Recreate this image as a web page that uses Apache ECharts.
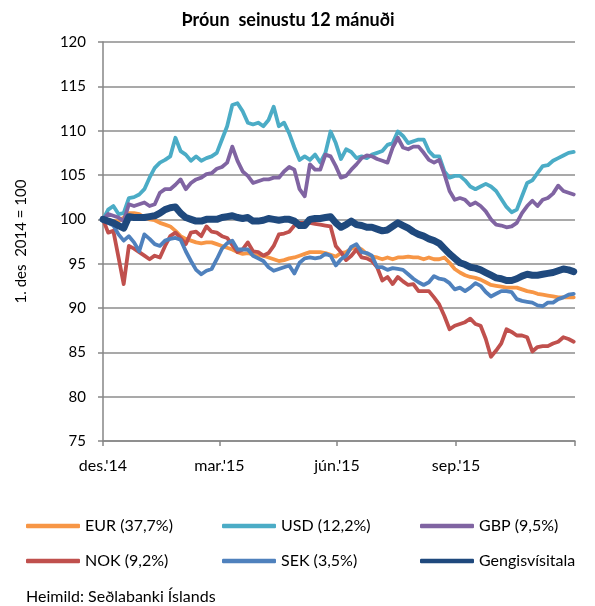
<!DOCTYPE html>
<html>
<head>
<meta charset="utf-8">
<script src="https://cdn.jsdelivr.net/npm/echarts@6/dist/echarts.min.js"></script>
<style>
  html, body { margin: 0; padding: 0; background: #fff; }
</style>
</head>
<body>
<div id="gengi_chart" style="width: 595px; height: 606px"></div>
<script>
// dagar frá 1. des 2014
var days = [
  0, 4, 8, 12, 16, 20, 24, 28, 32, 36, 40, 44, 48, 52, 56, 60, 64, 68, 72, 76, 80, 84, 88,
  92, 96, 100, 104, 108, 112, 116, 120, 124, 128, 132, 136, 140, 144, 148, 152, 156, 160, 164, 168, 172, 176, 180,
  184, 188, 192, 196, 200, 204, 208, 212, 216, 220, 224, 228, 232, 236, 240, 244, 248, 252, 256, 260, 264, 268, 272,
  276, 280, 284, 288, 292, 296, 300, 304, 308, 312, 316, 320, 324, 328, 332, 336, 340, 344, 348, 352, 356, 360, 364
]

var eur = [
  100, 99.9, 99.8, 99.8, 100.2, 100.7, 100.7, 100.6, 100.2, 100.0, 99.9, 99.6, 99.4, 99.2, 98.7, 98.1, 97.8, 97.6, 97.4, 97.3, 97.4, 97.4, 97.2,
  97.0, 96.8, 96.6, 96.3, 96.1, 96.2, 96.0, 95.9, 95.9, 95.7, 95.5, 95.3, 95.4, 95.6, 95.7, 95.9, 96.1, 96.3, 96.3, 96.3, 96.2, 96.0, 95.8,
  96.2, 96.3, 96.7, 96.9, 96.6, 96.1, 95.8, 95.7, 95.5, 95.7, 95.5, 95.7, 95.7, 95.8, 95.7, 95.7, 95.5, 95.7, 95.5, 95.5, 95.7, 95.1, 94.4,
  94.0, 93.7, 93.5, 93.4, 93.2, 92.9, 92.6, 92.5, 92.4, 92.3, 92.3, 92.3, 92.1, 91.9, 91.8, 91.6, 91.5, 91.4, 91.3, 91.2, 91.2, 91.2, 91.2
]
var usd = [
  100, 101.1, 101.5, 100.6, 100.7, 102.4, 102.5, 102.8, 103.4, 104.7, 105.8, 106.4, 106.7, 107.1, 109.2, 107.7, 107.3, 106.6, 107.1, 106.6, 106.9, 107.1, 107.5,
  109.0, 110.5, 112.9, 113.1, 112.2, 110.9, 110.7, 110.9, 110.5, 111.2, 112.7, 110.5, 110.9, 109.7, 108.1, 106.7, 107.1, 106.7, 107.3, 106.4, 107.5, 109.9, 108.6,
  106.8, 107.9, 107.6, 106.9, 107.1, 106.9, 107.3, 107.5, 107.7, 108.4, 108.6, 109.9, 109.4, 108.6, 108.8, 109.0, 109.0, 107.7, 107.1, 107.1, 105.4, 104.7, 104.9,
  104.9, 104.4, 103.7, 103.4, 103.7, 104.0, 103.7, 103.2, 102.3, 101.4, 100.8, 101.1, 102.6, 104.1, 104.4, 105.2, 106.0, 106.1, 106.6, 106.9, 107.2, 107.5, 107.6
]
var gbp = [
  100, 100.6, 100.4, 100.2, 99.8, 101.7, 101.5, 101.7, 101.9, 101.5, 101.7, 103.0, 103.4, 103.4, 103.9, 104.5, 103.4, 104.1, 104.5, 104.7, 105.1, 105.2, 105.7,
  105.9, 106.4, 108.2, 106.6, 105.4, 104.9, 104.1, 104.3, 104.5, 104.5, 104.7, 104.7, 105.4, 105.9, 105.6, 103.4, 102.6, 106.2, 105.6, 105.6, 107.3, 107.1, 106.0,
  104.7, 104.9, 105.6, 106.2, 106.9, 107.2, 107.1, 106.8, 106.6, 106.4, 108.1, 109.2, 108.1, 107.9, 108.2, 108.2, 107.5, 106.7, 106.4, 106.7, 105.1, 103.2, 102.2,
  102.4, 102.2, 101.6, 101.9, 101.5, 100.9, 100.0, 99.4, 99.3, 99.1, 99.2, 99.6, 100.7, 101.5, 102.1, 101.5, 102.2, 102.4, 102.9, 103.8, 103.2, 103.0, 102.8
]
var nok = [
  100, 98.5, 98.7, 95.7, 92.7, 97.0, 96.7, 96.3, 95.9, 95.5, 95.9, 95.7, 97.0, 98.1, 98.5, 97.9, 97.2, 98.5, 98.6, 98.1, 99.2, 98.6, 98.5,
  98.1, 97.9, 97.1, 96.3, 96.6, 97.4, 96.4, 96.3, 95.9, 96.2, 97.0, 98.3, 98.4, 98.6, 99.3, 99.6, 99.6, 99.6, 99.5, 99.4, 99.3, 99.2, 97.0,
  96.3, 95.4, 95.9, 96.6, 95.7, 95.6, 95.3, 94.6, 93.1, 93.5, 92.7, 93.5, 93.0, 92.6, 92.7, 91.9, 91.9, 91.9, 91.2, 90.4, 89.1, 87.6, 88.0,
  88.2, 88.4, 88.8, 88.2, 88.0, 86.5, 84.5, 85.2, 86.0, 87.6, 87.3, 86.9, 86.9, 86.7, 85.1, 85.6, 85.7, 85.7, 86.0, 86.2, 86.7, 86.5, 86.2
]
var sek = [
  100, 99.6, 99.3, 98.3, 97.6, 98.1, 97.4, 96.4, 98.3, 97.8, 97.2, 97.0, 97.6, 97.8, 97.9, 97.7, 96.4, 95.3, 94.3, 93.8, 94.2, 94.4, 95.5,
  96.7, 97.3, 97.6, 96.6, 96.6, 96.6, 95.9, 95.6, 95.3, 94.6, 94.2, 94.4, 94.6, 94.8, 93.9, 95.1, 95.6, 95.7, 95.6, 95.7, 96.1, 95.9, 94.8,
  95.5, 95.9, 96.9, 97.2, 96.3, 96.2, 95.9, 94.6, 94.6, 94.3, 94.5, 94.4, 94.3, 93.8, 93.3, 92.9, 92.6, 92.9, 93.6, 93.3, 93.2, 92.8, 92.1,
  92.3, 91.9, 92.3, 92.8, 92.5, 91.8, 91.3, 91.6, 91.9, 91.9, 91.8, 91.0, 90.8, 90.7, 90.6, 90.3, 90.2, 90.6, 90.6, 91.0, 91.2, 91.5, 91.6
]
var gengis = [
  100, 99.8, 99.6, 99.3, 99.0, 100.3, 100.2, 100.2, 100.2, 100.3, 100.4, 100.7, 101.1, 101.3, 101.4, 100.7, 100.2, 100.0, 99.8, 99.8, 100.0, 100.0, 100.0,
  100.2, 100.3, 100.4, 100.2, 100.1, 100.2, 99.8, 99.8, 99.9, 100.1, 100.0, 99.9, 100.0, 100.0, 99.8, 99.3, 99.3, 100.0, 100.1, 100.1, 100.2, 100.3, 99.6,
  99.1, 99.4, 99.8, 99.4, 99.3, 99.1, 99.1, 98.9, 98.7, 98.8, 99.2, 99.6, 99.3, 99.0, 98.6, 98.3, 98.1, 97.8, 97.6, 97.3, 96.7, 96.1, 95.6,
  95.1, 94.9, 94.6, 94.5, 94.3, 94.0, 93.7, 93.4, 93.3, 93.1, 93.1, 93.3, 93.6, 93.8, 93.7, 93.7, 93.8, 93.9, 94.0, 94.2, 94.4, 94.3, 94.1
]

var seriesNames = ['EUR (37,7%)', 'USD (12,2%)', 'GBP (9,5%)', 'NOK (9,2%)', 'SEK (3,5%)', 'Gengisvísitala']
var seriesColors = ['#F79646', '#4BACC6', '#8064A2', '#C0504D', '#4F81BD', '#1F497D']
var seriesValues = [eur, usd, gbp, nok, sek, gengis]

// ársfjórðungar
var tickDays = [0, 90, 181, 273, 365]
var tickLabels = ["des.'14", "mar.'15", "jún.'15", "sep.'15", '']

var font = 'Lato'

function pairs (vals) {
  return days.map(function (d, i) {
    return [d, vals[i]]
  })
}

var series = seriesNames.map(function (name, i) {
  var thick = name === 'Gengisvísitala'
  return {
    name: name,
    type: 'line',
    symbol: 'none',
    data: pairs(seriesValues[i]),
    lineStyle: { color: seriesColors[i], width: thick ? 7 : 3.8, cap: 'round', join: 'round' },
    itemStyle: { color: seriesColors[i] },
    z: thick ? 3 : 2
  }
})

// legend, 3 dálkar x 2 raðir
var legendLeft = [26, 222, 420]
var legendTop = [518, 553]
var legends = seriesNames.map(function (name, i) {
  return {
    data: [name],
    left: legendLeft[i % 3],
    top: legendTop[Math.floor(i / 3)],
    padding: 0,
    icon: 'roundRect',
    itemWidth: 54,
    itemHeight: 4.5,
    selectedMode: false,
    textStyle: { fontFamily: font, fontSize: 16, color: '#000' }
  }
})

var chart = echarts.init(document.getElementById('gengi_chart'))
chart.setOption({
  animation: false,
  title: [
    {
      text: 'Þróun  seinustu 12 mánuði',
      left: 283,
      textAlign: 'center',
      top: 6,
      textStyle: { fontFamily: font, fontSize: 18, fontWeight: 'bold', color: '#000' }
    }
  ],
  graphic: [
    {
      type: 'text',
      left: 26,
      top: 589,
      style: { text: 'Heimild: Seðlabanki Íslands', font: '16px ' + font, fill: '#000' }
    }
  ],
  legend: legends,
  grid: { left: 103, right: 20, top: 42, bottom: 165 },
  xAxis: {
    type: 'value',
    min: 0,
    max: 365,
    axisLine: { lineStyle: { color: '#868686', width: 1.5 } },
    axisTick: { show: true, customValues: tickDays, length: 5, lineStyle: { color: '#868686', width: 1.5 } },
    axisLabel: {
      customValues: tickDays,
      margin: 17,
      fontFamily: font,
      fontSize: 16,
      color: '#000',
      formatter: function (v) {
        return tickLabels[tickDays.indexOf(v)] || ''
      }
    },
    splitLine: { show: false }
  },
  yAxis: {
    type: 'value',
    min: 75,
    max: 120,
    interval: 5,
    name: '1. des  2014 = 100',
    nameLocation: 'middle',
    nameGap: 74,
    nameRotate: 90,
    nameTextStyle: { fontFamily: font, fontSize: 15, color: '#000' },
    axisLine: { show: true, lineStyle: { color: '#868686', width: 1.5 } },
    axisTick: { show: true, length: 5, lineStyle: { color: '#868686', width: 1.5 } },
    axisLabel: { margin: 17, fontFamily: font, fontSize: 15, color: '#000' },
    splitLine: { lineStyle: { color: '#8c8c8c', width: 1.5 } }
  },
  series: series
})
</script>
</body>
</html>
